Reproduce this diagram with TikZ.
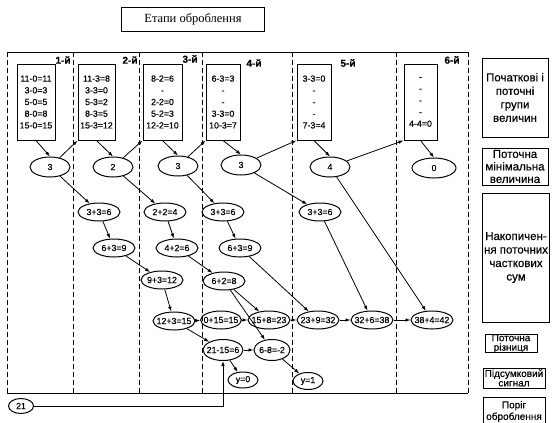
\documentclass[tikz,border=0pt]{standalone}
\usepackage{fontspec}
\setmainfont{Liberation Sans}[FakeBold=0.4]
\newfontfamily\titlefont{Liberation Serif}
\usetikzlibrary{shapes.geometric,arrows.meta}
\tikzset{
  grp/.style={draw, line width=1pt, align=center, inner sep=0pt, minimum height=76pt, font=\fontsize{8.8}{11.7}\selectfont},
  val/.style={draw, ellipse, line width=1pt, inner xsep=-3pt, inner ysep=0pt, minimum width=42pt, minimum height=18pt, font=\fontsize{8.8}{10}\selectfont},
  mn/.style={val, minimum width=40pt, minimum height=20pt},
  lgd/.style={draw, line width=1pt, align=center, inner sep=0pt, font=\fontsize{11.5}{13.5}\selectfont},
  stage/.style={font=\bfseries\fontsize{10}{11}\selectfont},
  arr/.style={-{Latex[length=5pt,width=3.5pt]}, line width=0.8pt},
  divider/.style={dash pattern=on 5pt off 3pt, line width=0.9pt}
}
\begin{document}
\begin{tikzpicture}[x=1pt,y=-1pt]
    \useasboundingbox (0,0) rectangle (552,423);
    % Title
    \node[draw, line width=0.8pt, minimum width=143pt, minimum height=24pt, font=\titlefont\fontsize{12.5}{14}\selectfont] (title) at (193,19) {Етапи оброблення};
    % Frame and stages
    \draw[line width=1pt] (7,52) -- (468,52);
    \draw[line width=1pt] (7,393) -- (468,393);
    \foreach \x in {7,73,139,202,292,396,468}
        \draw[divider] (\x,52) -- (\x,393);
    \foreach \x/\y/\n in {63/60/1, 130/60/2, 190/59/3, 254/63/4, 348/63/5, 452/60/6}
        \node[stage] (s\n) at (\x,\y) {\n-й};
    % Groups of values
    \node[grp, minimum width=38pt] (g1) at (36,102) {11-0=11\\3-0=3\\5-0=5\\8-0=8\\15-0=15};
    \node[grp, minimum width=37pt] (g2) at (96.5,102) {11-3=8\\3-3=0\\5-3=2\\8-3=5\\15-3=12};
    \node[grp, minimum width=39pt] (g3) at (162.5,102) {8-2=6\\-\\2-2=0\\5-2=3\\12-2=10};
    \node[grp, minimum width=34pt] (g4) at (223,102) {6-3=3\\-\\-\\3-3=0\\10-3=7};
    \node[grp, minimum width=34pt] (g5) at (314,102) {3-3=0\\-\\-\\-\\7-3=4};
    \node[grp, minimum width=33pt] (g6) at (420.5,102) {-\\-\\-\\-\\4-4=0};
    % Minimum values
    \node[mn] (m1) at (50,167) {3};
    \node[mn] (m2) at (113,167) {2};
    \node[mn] (m3) at (178,166) {3};
    \node[mn] (m4) at (241,165) {3};
    \node[mn] (m5) at (330,167) {4};
    \node[mn, minimum width=44pt] (m6) at (434,168) {0};
    % Partial sums
    \node[val] (a1) at (99,212) {3+3=6};
    \node[val] (a2) at (114,248) {6+3=9};
    \node[val] (a3) at (162,280) {9+3=12};
    \node[val] (a4) at (174,321) {12+3=15};
    \node[val] (b1) at (165,212) {2+2=4};
    \node[val] (b2) at (177,248) {4+2=6};
    \node[val] (b3) at (224,281) {6+2=8};
    \node[val] (c1) at (223,212) {3+3=6};
    \node[val] (c2) at (240,248) {6+3=9};
    \node[val] (d1) at (320,212) {3+3=6};
    \node[val, minimum width=37pt] (r2) at (221,320) {0+15=15};
    \node[val] (r3) at (269,320) {15+8=23};
    \node[val] (r4) at (318,320) {23+9=32};
    \node[val] (r5) at (372,320) {32+6=38};
    \node[val] (r6) at (432,320) {38+4=42};
    % Differences and signals
    \node[val, minimum width=40pt, minimum height=21pt] (dif1) at (223,350) {21-15=6};
    \node[val, minimum width=36pt, minimum height=21pt] (dif2) at (272,350) {6-8=-2};
    \node[val, minimum width=30pt, minimum height=16pt] (y0) at (243,380) {y=0};
    \node[val, minimum width=30pt, minimum height=17pt] (y1) at (308,381) {y=1};
    \node[val, minimum width=25pt, minimum height=15pt] (thr) at (21,406) {21};
    % Connectors
    \foreach \i in {1,...,6}
        \draw[arr] (g\i.south) -- (m\i.north);
    \foreach \i/\j in {1/2,2/3,3/4,4/5,5/6}
        \draw[arr] (m\i) -- (g\j.south west);
    \foreach \s/\t in {m1/a1, a1/a2, a2/a3, a3/a4, m2/b1, b1/b2, b2/b3, m3/c1, c1/c2, m4/d1,
                       c2/r4, d1/r5, m5/r6, b3/r3, b3/dif2, a4/r2, r2/r3, r3/r4, r4/r5, r5/r6,
                       a4/dif1, dif1/dif2, dif1/y0, dif2/y1}
        \draw[arr] (\s) -- (\t);
    \draw[arr] (thr) -| (dif1);
    % Legend
    \node[lgd, minimum width=66pt, minimum height=79pt] (l1) at (515,97.5) {Початкові і\\поточні\\групи\\величин};
    \node[lgd, minimum width=66pt, minimum height=37pt, font=\fontsize{11.5}{12.5}\selectfont] (l2) at (515,166.5) {Поточна\\мінімальна\\величина};
    \node[lgd, minimum width=67pt, minimum height=129pt] (l3) at (516,257.5) {Накопичен-\\ня поточних\\часткових\\сум};
    \node[lgd, minimum width=52pt, minimum height=17pt, font=\fontsize{10}{9.5}\selectfont] (l4) at (511,343.5) {Поточна\\різниця};
    \node[lgd, minimum width=62pt, minimum height=20pt, font=\fontsize{10}{9.5}\selectfont] (l5) at (514,378) {Підсумковий\\сигнал};
    \node[lgd, minimum width=62pt, minimum height=28pt, anchor=north, font=\fontsize{10}{11.5}\selectfont] (l6) at (514,397) {Поріг\\оброблення};
\end{tikzpicture}
\end{document}
